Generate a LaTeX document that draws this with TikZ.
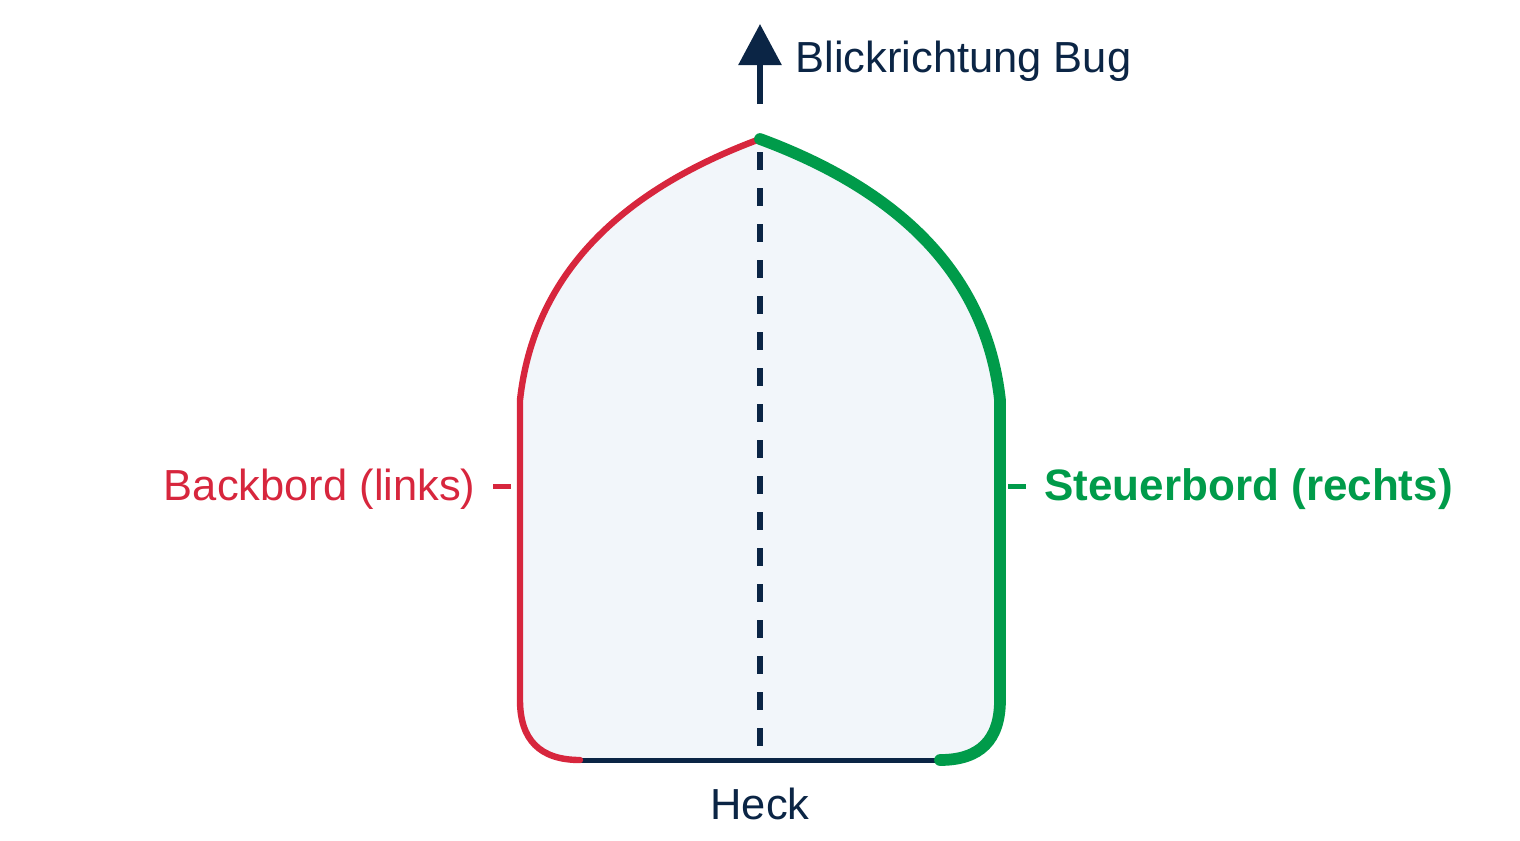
\documentclass[tikz,border=0pt]{standalone}
\usepackage{fontspec}
\setmainfont{Liberation Sans}
\usetikzlibrary{arrows.meta}

\definecolor{navy}{RGB}{11,37,69}
\definecolor{portred}{RGB}{215,38,61}
\definecolor{stbgreen}{RGB}{0,155,74}
\definecolor{hullfill}{RGB}{242,246,250}

\tikzset{every picture/.style={line width=0.75pt},
  sidetext/.style={inner sep=0pt, font=\fontsize{32.6}{38}\selectfont},
  portline/.style={draw=portred, line width=4.8pt, line cap=round},
  stbline/.style={draw=stbgreen, line width=8.8pt, line cap=round},
  keelline/.style={draw=navy, line width=4.5pt, dash pattern={on 13.5pt off 13.5pt}},
  sidetick/.style={line width=3.75pt}}

\begin{document}
\begin{tikzpicture}[x=0.75pt,y=0.75pt,yscale=-1,xscale=1]
\useasboundingbox (0,0) rectangle (1520,840);

% Hull points
\coordinate (bow) at (760,139);
\coordinate (portMid) at (520,400);
\coordinate (portLow) at (520,700);
\coordinate (sternPort) at (580,760);
\coordinate (sternStb) at (940,760);
\coordinate (stbLow) at (1000,700);
\coordinate (stbMid) at (1000,400);

%Shape: Hull fill
\fill [hullfill] (bow) .. controls (613.3,193.3) and (533.3,280) .. (portMid) -- (portLow) .. controls (520,740) and (540,760) .. (sternPort) -- (sternStb) .. controls (980,760) and (1000,740) .. (stbLow) -- (stbMid) .. controls (986.7,280) and (906.7,193.3) .. (bow) -- cycle ;

%Straight Lines: keel
\coordinate (keelTop) at (760,152);
\coordinate (keelEnd) at (760,746);
\draw [keelline] (keelTop) -- (keelEnd) ;

%Straight Lines: stern
\draw [navy, line width=3.75pt] (sternPort) -- (sternStb) ;

%Curve Lines: port side
\draw [portline] (bow) .. controls (613.3,193.3) and (533.3,280) .. (portMid) -- (portLow) .. controls (520,740) and (540,760) .. (sternPort) ;
%Curve Lines: starboard side
\draw [stbline] (bow) .. controls (906.7,193.3) and (986.7,280) .. (stbMid) -- (stbLow) .. controls (1000,740) and (980,760) .. (sternStb) ;

%Straight Lines: heading arrow
\coordinate (arrowBase) at (760,104);
\coordinate (arrowTip) at (760,24);
\draw [navy, line width=4.5pt, -{Triangle[length=30.75pt, width=31.5pt]}] (arrowBase) -- (arrowTip) ;

% Text Node
\node [sidetext, text=navy, anchor=base west] (bugText) at (795,72) {Blickrichtung Bug};
% Text Node
\node [sidetext, text=portred, anchor=base east] (portText) at (476,500) {Backbord (links)};
% Text Node
\node [sidetext, text=stbgreen, anchor=base west, font=\fontsize{33}{38}\selectfont\bfseries] (stbText) at (1044,500) {Steuerbord (rechts)};
% Text Node
\node [sidetext, text=navy, anchor=base] (heckText) at (760,819) {Heck};

%Straight Lines: ticks
\coordinate (portTickA) at (493,486);
\coordinate (portTickB) at (511,486);
\coordinate (stbTickA) at (1008,486);
\coordinate (stbTickB) at (1026,486);
\draw [sidetick, portred] (portTickA) -- (portTickB) ;
\draw [sidetick, stbgreen] (stbTickA) -- (stbTickB) ;

\end{tikzpicture}
\end{document}
